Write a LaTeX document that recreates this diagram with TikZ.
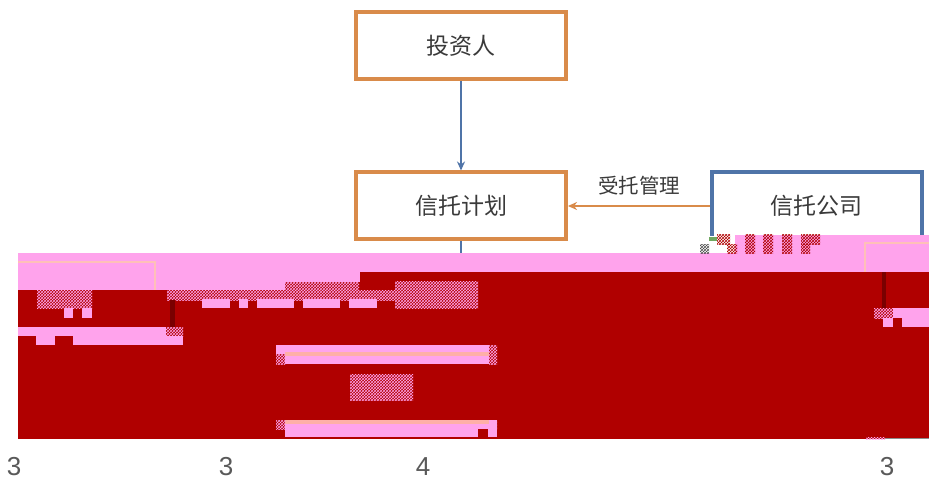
\documentclass[tikz,border=0pt]{standalone}
\usepackage{fontspec}
\newfontfamily\cjk{Noto Sans CJK SC}
\setmainfont{Liberation Sans}
\usetikzlibrary{patterns,arrows.meta}
\definecolor{orangec}{HTML}{D98B4A}
\definecolor{bluec}{HTML}{4F74A8}
\definecolor{pinkc}{HTML}{FFA3EC}
\definecolor{redc}{HTML}{B00000}
\definecolor{darkred}{HTML}{7A0000}
\definecolor{palec}{HTML}{FFC0B8}
\definecolor{salmonc}{HTML}{FFAFA8}
\definecolor{textc}{HTML}{3A3A3A}
\definecolor{greenc}{HTML}{6FA860}
\tikzset{
  orangebox/.style={draw=orangec,line width=4pt,fill=white,minimum width=210pt,minimum height=67pt,inner sep=0pt,text=textc,font=\cjk\fontsize{23}{25}\selectfont},
  bluebox/.style={orangebox,draw=bluec},
  bluearrow/.style={draw=bluec,line width=2pt,-{Stealth[length=9pt,width=8pt]}},
  orangearrow/.style={draw=orangec,line width=2pt,-{Stealth[length=9pt,width=8pt]}},
  edgelabel/.style={text=textc,inner sep=0pt,font=\cjk\fontsize{20.5}{22}\selectfont},
  digit/.style={text=black!65,inner sep=0pt,font=\fontsize{26}{28}\selectfont},
  pinkfill/.style={fill=pinkc,draw=none},
  redfill/.style={fill=redc,draw=none},
  noise/.style={pattern=crosshatch,pattern color=pinkc,draw=none},
  darknoise/.style={pattern=crosshatch,pattern color=redc,draw=none},
  paleline/.style={draw=palec,line width=2.5pt}
}
\begin{document}
\begin{tikzpicture}[x=1pt,y=-1pt]
\useasboundingbox (0,0) rectangle (929,481);
\fill[white] (0,0) rectangle (929,481);
\node[orangebox] (inv) at (461,45.5) {\raisebox{-1.5pt}{投资人}};
\node[orangebox] (plan) at (461,206) {\raisebox{-1pt}{信托计划}};
\node[bluebox] (co) at (816.5,206) {\raisebox{-1pt}{信托公司}};
\node[edgelabel] (lab) at (639,186) {受托管理};
\coordinate (down) at (461,256);
\draw[bluearrow] (inv) -- (plan);
\draw[bluec,line width=2pt] (plan) -- (down);
\draw[orangearrow] (co.west |- plan.east) -- (plan.east);
% corrupted band
\fill[pinkfill] (18,253) rectangle (929,272);
\fill[white] (700,236) rectangle (735,253);
\fill[pinkfill] (735,235) rectangle (929,253);
\fill[greenc] (709,237) rectangle (717,241);
\fill[pinkfill] (18,272) rectangle (285,290);
\fill[redfill] (18,290) rectangle (929,439);
\fill[redfill] (285,272) rectangle (929,290);
\fill[pinkfill] (285,272) rectangle (360,282);
% pale lines
\draw[paleline] (18,262) -- (155,262) -- (155,290);
\draw[paleline] (929,243) -- (865,243) -- (865,272);
% noise blocks
\foreach \a/\b/\c/\d in {717/235/730/245,727/245/737/253,745/235/755/253,763/235/773/253,782/235/792/253,801/235/820/245,801/245/810/253}
  \fill[darknoise] (\a,\b) rectangle (\c,\d);
\fill[pattern=crosshatch,pattern color=black!70] (700,245) rectangle (709,253);
\fill[noise] (285,272) rectangle (359,290);
\fill[noise] (167,290) rectangle (395,300);
\fill[noise] (395,281) rectangle (478,308);
\fill[noise] (37,290) rectangle (92,308);
\fill[noise] (166,327) rectangle (183,336);
\fill[noise] (350,374) rectangle (413,400);
\fill[noise] (378,345) rectangle (396,354);
\fill[noise] (874,308) rectangle (893,318);
% pink patches upper row
\foreach \a/\b in {202/230,239/248,257/294,303/340,349/377}
  \fill[pinkfill] (\a,299) rectangle (\b,308);
\fill[pinkfill] (64,308) rectangle (73,318);
\fill[pinkfill] (82,308) rectangle (92,318);
\fill[pinkfill] (18,327) rectangle (166,336);
\fill[pinkfill] (36,336) rectangle (55,345);
\fill[pinkfill] (73,336) rectangle (183,345);
% bars
\fill[pinkfill] (276,345) rectangle (489,354);
\fill[pinkfill] (285,354) rectangle (489,364);
\fill[salmonc] (285,351.5) rectangle (489,356);
\fill[noise] (276,354) rectangle (285,364);
\fill[noise] (489,345) rectangle (497,364);
\fill[pinkfill] (285,420) rectangle (497,437);
\fill[salmonc] (285,420) rectangle (489,424);
\fill[redfill] (478,429) rectangle (488,438);
\fill[noise] (276,420) rectangle (285,429);
\fill[noise] (489,420) rectangle (497,429);
% right patches
\fill[pinkfill] (893,308) rectangle (929,327);
\fill[redfill] (893,318) rectangle (902,327);
\fill[pinkfill] (883,318) rectangle (893,327);
% dark streaks
\fill[darkred] (170,300) rectangle (175,327);
\fill[darkred] (882,272) rectangle (886,308);
\fill[black!45] (885,438) rectangle (929,439);
\fill[noise] (866,437) rectangle (885,439);
% digits
\node[digit] (d1) at (14,467) {3};
\node[digit] (d2) at (226,467) {3};
\node[digit] (d3) at (423,467) {4};
\node[digit] (d4) at (887,467) {3};
\end{tikzpicture}
\end{document}
